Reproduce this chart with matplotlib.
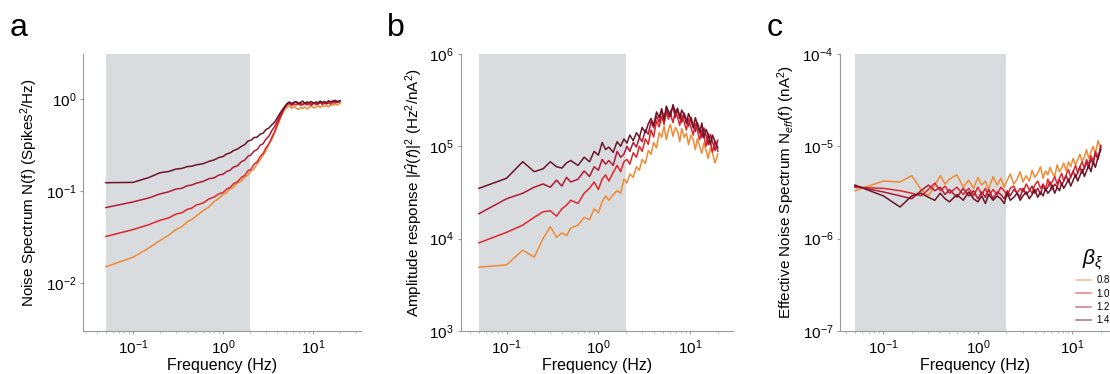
import matplotlib
matplotlib.use('Agg')
import matplotlib.pyplot as plt
from matplotlib.ticker import NullLocator

plt.rcParams['font.family'] = ['Liberation Sans', 'DejaVu Sans']
plt.rcParams['mathtext.fontset'] = 'custom'
plt.rcParams['mathtext.rm'] = 'Liberation Sans'
plt.rcParams['mathtext.it'] = 'Liberation Sans:italic'
plt.rcParams['axes.unicode_minus'] = False

# shared frequency grid (Hz)
freq = [0.05, 0.1, 0.15, 0.2, 0.25, 0.3, 0.35, 0.4, 0.45, 0.5, 0.6, 0.7, 0.8, 0.9, 1.0,
        1.1, 1.2, 1.3, 1.45, 1.6, 1.75, 1.9, 2.05, 2.2, 2.4, 2.6, 2.8, 3.0, 3.25, 3.5,
        3.75, 4.0, 4.3, 4.6, 4.9, 5.2, 5.5, 5.8, 6.1, 6.5, 6.9, 7.3, 7.7, 8.1, 8.6,
        9.1, 9.6, 10.2, 10.8, 11.4, 12.0, 12.7, 13.4, 14.1, 14.9, 15.7, 16.6, 17.5, 18.7, 20.0]

betas = ['0.8', '1.0', '1.2', '1.4']
colors = ['#f08a34', '#e0262a', '#b01a34', '#6a1526']

# panel a: noise spectrum N(f)
noise_08 = [0.015, 0.019, 0.024, 0.029, 0.033, 0.038, 0.041, 0.046, 0.049, 0.053, 0.061, 0.067, 0.077, 0.083, 0.091,
            0.096, 0.106, 0.109, 0.122, 0.128, 0.142, 0.149, 0.165, 0.172, 0.198, 0.218, 0.248, 0.272, 0.325, 0.365,
            0.43, 0.5, 0.6, 0.7, 0.78, 0.82, 0.84, 0.79, 0.83, 0.8, 0.77, 0.81, 0.79, 0.82, 0.78,
            0.81, 0.84, 0.8, 0.82, 0.85, 0.81, 0.84, 0.83, 0.86, 0.82, 0.87, 0.85, 0.89, 0.86, 0.9]
noise_10 = [0.032, 0.038, 0.043, 0.048, 0.051, 0.056, 0.058, 0.063, 0.065, 0.07, 0.074, 0.082, 0.086, 0.093, 0.096,
            0.105, 0.109, 0.119, 0.126, 0.14, 0.148, 0.166, 0.172, 0.194, 0.207, 0.238, 0.256, 0.294, 0.326, 0.385,
            0.44, 0.52, 0.62, 0.72, 0.81, 0.87, 0.89, 0.85, 0.88, 0.86, 0.9, 0.85, 0.87, 0.89, 0.86,
            0.88, 0.85, 0.9, 0.87, 0.89, 0.92, 0.87, 0.9, 0.89, 0.91, 0.88, 0.93, 0.91, 0.92, 0.94]
noise_12 = [0.066, 0.076, 0.084, 0.093, 0.098, 0.105, 0.107, 0.114, 0.116, 0.121, 0.127, 0.136, 0.139, 0.149, 0.152,
            0.163, 0.168, 0.181, 0.188, 0.208, 0.217, 0.239, 0.247, 0.27, 0.282, 0.315, 0.327, 0.365, 0.396, 0.455,
            0.5, 0.57, 0.66, 0.75, 0.83, 0.89, 0.91, 0.87, 0.9, 0.92, 0.88, 0.9, 0.87, 0.91, 0.89,
            0.92, 0.88, 0.9, 0.91, 0.88, 0.92, 0.9, 0.93, 0.89, 0.92, 0.94, 0.91, 0.95, 0.92, 0.94]
noise_14 = [0.123, 0.124, 0.14, 0.158, 0.163, 0.173, 0.176, 0.184, 0.186, 0.192, 0.198, 0.21, 0.218, 0.231, 0.237,
            0.253, 0.259, 0.274, 0.286, 0.305, 0.32, 0.35, 0.356, 0.38, 0.386, 0.415, 0.426, 0.465, 0.485, 0.525,
            0.56, 0.62, 0.7, 0.77, 0.84, 0.9, 0.93, 0.89, 0.92, 0.94, 0.9, 0.92, 0.95, 0.9, 0.93,
            0.91, 0.94, 0.9, 0.93, 0.91, 0.95, 0.92, 0.94, 0.91, 0.96, 0.93, 0.95, 0.97, 0.94, 0.96]

# panel b: amplitude response |H(f)|^2
amp_08 = [4900, 5200, 7500, 6300, 10000, 13500, 10300, 11500, 10800, 13000, 14000, 17000, 16000, 21000, 19000,
          25000, 29000, 26000, 30000, 33000, 31000, 44000, 40000, 50000, 46000, 60000, 55000, 72000, 65000, 90000,
          82000, 110000, 96000, 140000, 125000, 165000, 118000, 150000, 172000, 128000, 160000, 145000, 112000, 155000, 125000,
          138000, 104000, 132000, 118000, 92000, 122000, 100000, 84000, 108000, 90000, 74000, 96000, 84000, 66000, 82000]
amp_10 = [9000, 11700, 14000, 17000, 19500, 20000, 17500, 21000, 23000, 26000, 24000, 31000, 35000, 41000, 34000,
          44000, 49000, 42000, 52000, 62000, 53000, 68000, 72000, 64000, 85000, 76000, 100000, 88000, 120000, 105000,
          150000, 126000, 188000, 162000, 210000, 172000, 238000, 196000, 225000, 180000, 242000, 205000, 168000, 218000, 182000,
          150000, 198000, 160000, 132000, 176000, 148000, 118000, 150000, 128000, 100000, 136000, 112000, 86000, 114000, 88000]
amp_12 = [18600, 27000, 31000, 36000, 39000, 36000, 43000, 37000, 46000, 41000, 44000, 54000, 47000, 60000, 55000,
          72000, 64000, 70000, 62000, 88000, 76000, 82000, 100000, 88000, 110000, 98000, 125000, 112000, 150000, 135000,
          185000, 158000, 212000, 182000, 245000, 200000, 256000, 212000, 238000, 262000, 205000, 245000, 215000, 182000, 228000,
          195000, 165000, 206000, 172000, 145000, 180000, 150000, 124000, 158000, 132000, 104000, 134000, 112000, 90000, 116000]
amp_14 = [35000, 45000, 68000, 53000, 57000, 68000, 60000, 58000, 66000, 70000, 62000, 76000, 68000, 88000, 80000,
          110000, 92000, 98000, 86000, 112000, 100000, 120000, 108000, 132000, 115000, 140000, 125000, 160000, 140000, 175000,
          200000, 168000, 235000, 205000, 255000, 190000, 272000, 238000, 210000, 282000, 232000, 258000, 200000, 246000, 218000,
          176000, 226000, 192000, 158000, 204000, 170000, 140000, 178000, 124000, 152000, 134000, 104000, 132000, 112000, 96000]

# panel c: effective noise spectrum Neff(f)
eff_08 = [3.3e-6, 4.2e-6, 4.1e-6, 4.8e-6, 3.4e-6, 2.9e-6, 3.8e-6, 4.8e-6, 3.9e-6, 4.4e-6, 4.9e-6, 3.6e-6, 4.3e-6, 3.5e-6, 4.6e-6,
          3.8e-6, 4.2e-6, 3.4e-6, 4.7e-6, 3.8e-6, 4.5e-6, 3.6e-6, 4.3e-6, 5.0e-6, 3.9e-6, 4.4e-6, 5.3e-6, 4.1e-6, 4.8e-6, 4.2e-6,
          5.5e-6, 4.6e-6, 5.1e-6, 6.0e-6, 4.5e-6, 5.4e-6, 4.9e-6, 5.9e-6, 5.2e-6, 4.7e-6, 6.3e-6, 5.3e-6, 5.8e-6, 6.6e-6, 5.4e-6,
          6.8e-6, 6.0e-6, 7.4e-6, 6.3e-6, 7.1e-6, 8.2e-6, 6.8e-6, 7.7e-6, 9.2e-6, 7.4e-6, 8.6e-6, 1.0e-5, 8.3e-6, 1.15e-5, 9.4e-6]
eff_10 = [3.6e-6, 3.5e-6, 3.3e-6, 3.1e-6, 2.9e-6, 3.4e-6, 4.0e-6, 3.3e-6, 3.7e-6, 3.1e-6, 3.6e-6, 3.0e-6, 3.5e-6, 2.9e-6, 3.6e-6,
          3.0e-6, 3.5e-6, 2.9e-6, 3.4e-6, 3.0e-6, 3.6e-6, 3.3e-6, 2.9e-6, 3.5e-6, 3.7e-6, 3.1e-6, 3.5e-6, 3.2e-6, 3.9e-6, 3.4e-6,
          3.1e-6, 3.8e-6, 4.2e-6, 3.5e-6, 3.9e-6, 3.4e-6, 4.4e-6, 3.8e-6, 4.1e-6, 4.7e-6, 3.9e-6, 4.5e-6, 5.1e-6, 4.2e-6, 4.9e-6,
          5.6e-6, 4.6e-6, 5.3e-6, 6.2e-6, 5.1e-6, 6.0e-6, 6.8e-6, 5.7e-6, 7.2e-6, 6.3e-6, 7.9e-6, 6.9e-6, 8.8e-6, 7.6e-6, 9.8e-6]
eff_12 = [3.7e-6, 3.2e-6, 2.9e-6, 2.7e-6, 3.3e-6, 3.8e-6, 3.3e-6, 3.6e-6, 3.0e-6, 3.4e-6, 2.8e-6, 3.5e-6, 2.9e-6, 3.3e-6, 2.7e-6,
          3.2e-6, 2.8e-6, 3.4e-6, 2.7e-6, 3.2e-6, 3.0e-6, 2.7e-6, 3.3e-6, 2.9e-6, 3.4e-6, 3.1e-6, 2.8e-6, 3.5e-6, 3.0e-6, 3.3e-6,
          3.7e-6, 3.1e-6, 3.5e-6, 3.0e-6, 3.8e-6, 3.3e-6, 3.6e-6, 4.1e-6, 3.4e-6, 3.9e-6, 3.6e-6, 4.4e-6, 3.8e-6, 4.2e-6, 4.8e-6,
          4.1e-6, 4.7e-6, 5.4e-6, 4.6e-6, 5.2e-6, 6.0e-6, 5.1e-6, 5.9e-6, 6.7e-6, 5.8e-6, 7.3e-6, 6.4e-6, 8.3e-6, 7.2e-6, 1.02e-5]
eff_14 = [3.8e-6, 2.9e-6, 2.2e-6, 2.9e-6, 3.1e-6, 2.8e-6, 2.6e-6, 3.1e-6, 2.7e-6, 2.5e-6, 3.0e-6, 2.6e-6, 3.2e-6, 2.7e-6, 2.5e-6,
          2.9e-6, 2.4e-6, 3.0e-6, 2.6e-6, 2.9e-6, 2.7e-6, 2.4e-6, 3.1e-6, 2.6e-6, 2.8e-6, 3.1e-6, 2.6e-6, 2.9e-6, 3.2e-6, 2.7e-6,
          3.0e-6, 3.4e-6, 2.8e-6, 3.2e-6, 2.9e-6, 3.5e-6, 3.1e-6, 3.3e-6, 3.8e-6, 3.1e-6, 3.6e-6, 3.3e-6, 4.0e-6, 3.5e-6, 3.9e-6,
          4.4e-6, 3.7e-6, 4.3e-6, 4.9e-6, 4.2e-6, 4.8e-6, 5.6e-6, 4.7e-6, 5.4e-6, 6.2e-6, 5.3e-6, 6.8e-6, 5.9e-6, 7.7e-6, 9.2e-6]

band = (0.05, 2.0)

panels = [
    ('a', [0.075, 0.115, 0.25, 0.741], (0.028, 34), (0.003, 3.1),
     'Noise Spectrum N(f) (Spikes$^2$/Hz)', [noise_08, noise_10, noise_12, noise_14]),
    ('b', [0.415, 0.115, 0.245, 0.741], (0.0316, 29), (1e3, 1e6),
     r'Amplitude response $|\hat{H}(f)|^2$ (Hz$^2$/nA$^2$)', [amp_08, amp_10, amp_12, amp_14]),
    ('c', [0.757, 0.115, 0.243, 0.741], (0.035, 25), (1e-7, 1e-4),
     'Effective Noise Spectrum N$_{eff}$(f) (nA$^2$)', [eff_08, eff_10, eff_12, eff_14]),
]

FONTSIZE = 11
fig = plt.figure(figsize=(11.1, 3.74), dpi=100)

for letter, rect, xlim, ylim, ylabel, series in panels:
    ax = fig.add_axes(rect)
    ax.axvspan(band[0], band[1], color='#d9dcdf', lw=0, zorder=0)
    for vals, col, b in zip(series, colors, betas):
        ax.plot(freq, vals, color=col, lw=1.1, label=b, zorder=2)
    ax.set_xscale('log')
    ax.set_yscale('log')
    ax.set_xlim(*xlim)
    ax.set_ylim(*ylim)
    ax.yaxis.set_minor_locator(NullLocator())
    for s in ['top', 'right']:
        ax.spines[s].set_visible(False)
    for s in ['left', 'bottom']:
        ax.spines[s].set_color('#9a9a9a')
        ax.spines[s].set_linewidth(0.8)
    ax.tick_params(axis='both', which='major', labelsize=FONTSIZE, length=2,
                   color='#9a9a9a', pad=3)
    ax.tick_params(axis='x', which='minor', length=1.5, color='#b0b0b0')
    ax.set_xlabel('Frequency (Hz)', fontsize=FONTSIZE + 0.5, labelpad=1)
    ax.set_ylabel(ylabel, fontsize=FONTSIZE, labelpad=4)
    fig.text(rect[0] - 0.066, 0.965, letter, fontsize=23, va='top', ha='left')

leg = ax.legend(loc='lower right', bbox_to_anchor=(1.0, 0.02), frameon=False,
                fontsize=7, title=r'$\beta_\xi$', title_fontsize=15,
                handlelength=1.5, handletextpad=0.6, labelspacing=0.35,
                borderpad=0, borderaxespad=0)
for line in leg.get_lines():
    line.set_alpha(0.6)

fig.savefig('out.png', dpi=100)
